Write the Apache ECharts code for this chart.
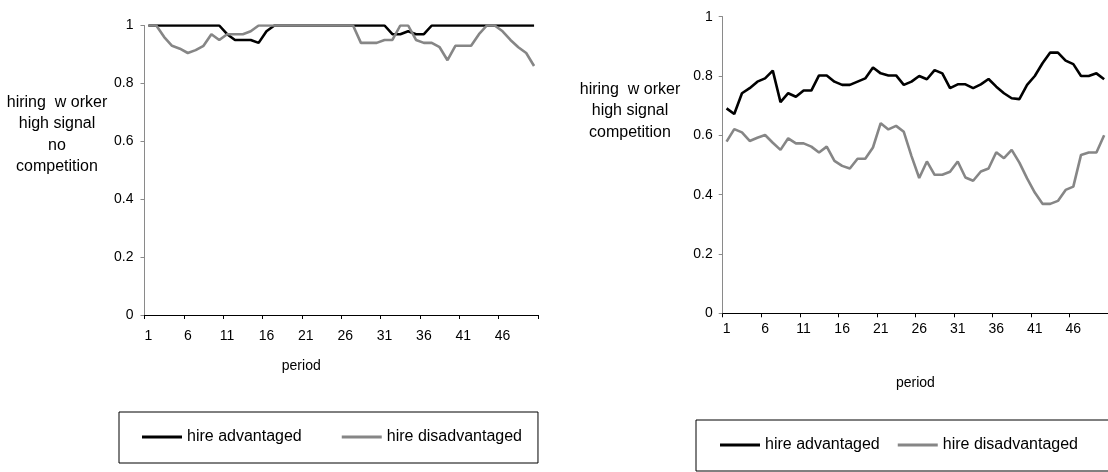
<!DOCTYPE html>
<html>
<head>
<meta charset="utf-8">
<script src="https://cdn.jsdelivr.net/npm/echarts@6/dist/echarts.min.js"></script>
<style>
html,body{margin:0;padding:0;background:#fff;}
#c{width:1108px;height:472px;}
</style>
</head>
<body>
<div id="c"></div>
<script>
var periods = ['1','2','3','4','5','6','7','8','9','10','11','12','13','14','15','16','17','18','19','20',
  '21','22','23','24','25','26','27','28','29','30','31','32','33','34','35','36','37','38','39','40',
  '41','42','43','44','45','46','47','48','49','50'];

var yTicks = [0, 0.2, 0.4, 0.6, 0.8, 1];

var noCompAdvantaged = [1,1,1,1,1,1,1,1,1,1,
  0.97,0.95,0.95,0.95,0.94,0.98,1,1,1,1,
  1,1,1,1,1,1,1,1,1,1,
  1,0.97,0.97,0.98,0.97,0.97,1,1,1,1,
  1,1,1,1,1,1,1,1,1,1];

var noCompDisadvantaged = [1,1,0.96,0.93,0.92,0.905,0.915,0.93,0.97,0.95,
  0.97,0.97,0.97,0.98,1,1,1,1,1,1,
  1,1,1,1,1,1,1,0.94,0.94,0.94,
  0.95,0.95,1,1,0.95,0.94,0.94,0.925,0.88,0.93,
  0.93,0.93,0.97,1,1,0.98,0.95,0.925,0.905,0.86];

var compAdvantaged = [0.691,0.672,0.742,0.759,0.781,0.792,0.818,0.712,0.742,0.73,
  0.751,0.751,0.802,0.802,0.781,0.77,0.77,0.781,0.792,0.829,
  0.809,0.802,0.802,0.77,0.781,0.80,0.789,0.82,0.809,0.759,
  0.772,0.772,0.759,0.772,0.79,0.764,0.742,0.725,0.722,0.77,
  0.80,0.843,0.879,0.879,0.852,0.84,0.80,0.80,0.809,0.789];

var compDisadvantaged = [0.579,0.621,0.61,0.581,0.592,0.601,0.575,0.551,0.59,0.573,
  0.573,0.562,0.542,0.562,0.514,0.497,0.488,0.521,0.521,0.559,
  0.641,0.62,0.632,0.612,0.53,0.456,0.512,0.467,0.467,0.477,
  0.512,0.458,0.447,0.478,0.488,0.543,0.523,0.551,0.508,0.455,
  0.407,0.369,0.369,0.379,0.416,0.427,0.534,0.542,0.542,0.6];

var leftTitle = 'hiring  w orker\nhigh signal\nno\ncompetition';
var rightTitle = 'hiring  w orker\nhigh signal\ncompetition';
var xName = 'period';
var nameAdv = 'hire advantaged';
var nameDis = 'hire disadvantaged';

var FONT = 'Liberation Sans, Arial, sans-serif';
var FS = 14;
var FS_BIG = 16;
var BLACK = '#000000';
var GREY = '#868686';

function xAxisCfg(gridIndex, labelMargin, nameGap, namePad) {
  return {
    type: 'category', gridIndex: gridIndex, data: periods, boundaryGap: true,
    axisLine: {show: true, onZero: false, lineStyle: {color: BLACK, width: 1}},
    axisTick: {show: true, interval: 4, length: 4, inside: false, lineStyle: {color: BLACK, width: 1}},
    axisLabel: {interval: 4, margin: labelMargin, color: BLACK, fontFamily: FONT, fontSize: FS},
    splitLine: {show: false},
    name: xName, nameLocation: 'middle', nameGap: nameGap,
    nameTextStyle: {color: BLACK, fontFamily: FONT, fontSize: FS, verticalAlign: 'middle', padding: namePad}
  };
}
function yAxisCfg(gridIndex, labelMargin) {
  return {
    type: 'value', gridIndex: gridIndex, min: yTicks[0], max: yTicks[yTicks.length - 1], interval: 0.2,
    axisLine: {show: true, lineStyle: {color: '#8a8a8a', width: 1}},
    axisTick: {show: true, length: 4, inside: false, lineStyle: {color: '#8a8a8a', width: 1}},
    axisLabel: {margin: labelMargin, color: BLACK, fontFamily: FONT, fontSize: FS},
    splitLine: {show: false}
  };
}
function lineSeries(name, data, idx, color) {
  return {
    type: 'line', name: name, data: data, xAxisIndex: idx, yAxisIndex: idx,
    showSymbol: false, symbol: 'none', smooth: false, animation: false,
    lineStyle: {color: color, width: 2.6}, itemStyle: {color: color}
  };
}
function legendCfg(left, top, padding, gap) {
  return {
    left: left, top: top, width: 600, orient: 'horizontal', padding: padding, itemGap: gap,
    itemWidth: 40, itemHeight: 3, icon: 'rect',
    borderColor: BLACK, borderWidth: 1, backgroundColor: '#fff',
    selectedMode: false,
    formatter: '{a|{name}}',
    textStyle: {color: BLACK, fontFamily: FONT, fontSize: FS_BIG,
      rich: {a: {width: 120, color: BLACK, fontFamily: FONT, fontSize: FS_BIG, align: 'left'}}},
    data: [nameAdv, nameDis]
  };
}
function titleText(text, x, y) {
  return {
    type: 'text', x: x, y: y, silent: true,
    style: {text: text, align: 'center', verticalAlign: 'middle', fill: BLACK,
      font: FS_BIG + 'px ' + FONT, lineHeight: 21.5}
  };
}

var chart = echarts.init(document.getElementById('c'), null, {renderer: 'canvas'});
chart.setOption({
  backgroundColor: '#ffffff',
  animation: false,
  textStyle: {fontFamily: FONT},
  grid: [
    {left: 144.5, top: 25.5, width: 393.5, height: 289.5, containLabel: false},
    {left: 722.7, top: 16.7, width: 392, height: 296.6, containLabel: false}
  ],
  xAxis: [xAxisCfg(0, 14, 51, [0, 80, 0, 0]), xAxisCfg(1, 9, 70, [0, 0, 0, 0])],
  yAxis: [yAxisCfg(0, 11), yAxisCfg(1, 10)],
  legend: [
    legendCfg(119, 412, [17, 16, 18, 23], 40),
    legendCfg(696, 420, [17, 50, 18, 24], 18)
  ],
  graphic: [
    titleText(leftTitle, 57, 134.7),
    titleText(rightTitle, 630, 110.7)
  ],
  series: [
    lineSeries(nameAdv, noCompAdvantaged, 0, BLACK),
    lineSeries(nameDis, noCompDisadvantaged, 0, GREY),
    lineSeries(nameAdv, compAdvantaged, 1, BLACK),
    lineSeries(nameDis, compDisadvantaged, 1, GREY)
  ]
});
</script>
</body>
</html>
